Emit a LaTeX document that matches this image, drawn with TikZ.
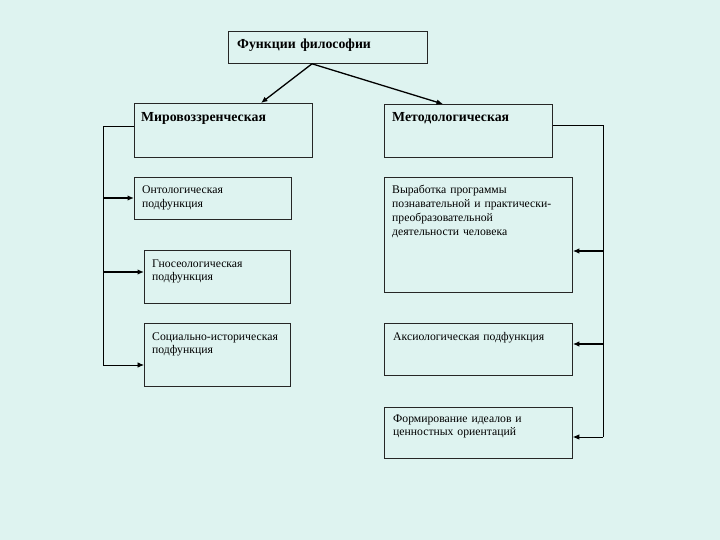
\documentclass[tikz,border=0pt]{standalone}
\usepackage{fontspec}
\setmainfont{Liberation Serif}
\usepackage{tikz}
\usetikzlibrary{shapes,arrows,arrows.meta}
\definecolor{bgcol}{RGB}{222,243,240}
\tikzstyle{block} = [rectangle, draw=black!85, line width=0.8pt, fill=bgcol,
    inner sep=0pt, anchor=north west]
\tikzstyle{txt} = [anchor=base west, inner sep=0pt, align=left, text width=180pt,
    font=\fontsize{11.7}{13.8}\selectfont]
\tikzstyle{head} = [txt, font=\fontsize{13.8}{15}\selectfont\bfseries]
\tikzstyle{line} = [draw, -{Latex[length=6.5pt, width=5.5pt]}, line width=1.6pt]
\tikzstyle{thinline} = [line, line width=0.9pt]
\tikzstyle{wire} = [draw, line width=0.8pt]

\begin{document}
\begin{tikzpicture}[x=1pt, y=-1pt]
    \useasboundingbox[fill=bgcol] (0,0) rectangle (720,540);
    % Place nodes
    \node [block, minimum width=199, minimum height=32,
        label={[head, xshift=9, yshift=-18]north west:Функции философии}] (func) at (228,31) {};
    \node [block, minimum width=178, minimum height=54,
        label={[head, xshift=7, yshift=-19]north west:Мировоззренческая}] (mir) at (134,103) {};
    \node [block, minimum width=168, minimum height=53,
        label={[head, xshift=8, yshift=-18]north west:Методологическая}] (meth) at (384,104) {};
    \node [block, minimum width=157, minimum height=42,
        label={[txt, xshift=8, yshift=-17]north west:Онтологическая\\подфункция}] (onto) at (134,177) {};
    \node [block, minimum width=188, minimum height=115,
        label={[txt, xshift=8, yshift=-17]north west:Выработка программы\\познавательной и практически-\\преобразовательной\\деятельности человека}] (prog) at (384,177) {};
    \node [block, minimum width=146, minimum height=53,
        label={[txt, xshift=8, yshift=-17]north west:Гносеологическая\\подфункция}] (gnos) at (144,250) {};
    \node [block, minimum width=146, minimum height=63,
        label={[txt, xshift=8, yshift=-17]north west:Социально-историческая\\подфункция}] (soc) at (144,323) {};
    \node [block, minimum width=188, minimum height=52,
        label={[txt, xshift=9, yshift=-17]north west:Аксиологическая подфункция}] (axio) at (384,323) {};
    \node [block, minimum width=188, minimum height=51,
        label={[txt, xshift=9, yshift=-15]north west:Формирование идеалов и\\ценностных ориентаций}] (ideal) at (384,407) {};

    % Branch points
    \coordinate (fork) at (312,0 |- func.south);
    \coordinate (mir in) at (261,0 |- mir.north);
    \coordinate (meth in) at (443,0 |- meth.north);
    \coordinate (l0) at (103,126);
    \coordinate (l1) at (103,198);
    \coordinate (l2) at (103,272);
    \coordinate (l3) at (103,365);
    \coordinate (r0) at (603,125);
    \coordinate (r1) at (603,251);
    \coordinate (r2) at (603,344);
    \coordinate (r3) at (603,437);

  \path [line, line width=1.3pt] (fork) -- (mir in);
  \path [line, line width=1.3pt] (fork) -- (meth in);
  \path [wire] (mir.west |- l0) -- (l0) -- (l3);
  \path [line] (l1) -- (l1 -| onto.west);
  \path [line] (l2) -- (l2 -| gnos.west);
  \path [thinline] (l3) -- (l3 -| soc.west);
  \path [wire] (meth.east |- r0) -- (r0) -- (r3);
  \path [line] (r1) -- (r1 -| prog.east);
  \path [line] (r2) -- (r2 -| axio.east);
  \path [thinline] (r3) -- (r3 -| ideal.east);
\end{tikzpicture}
\end{document}
